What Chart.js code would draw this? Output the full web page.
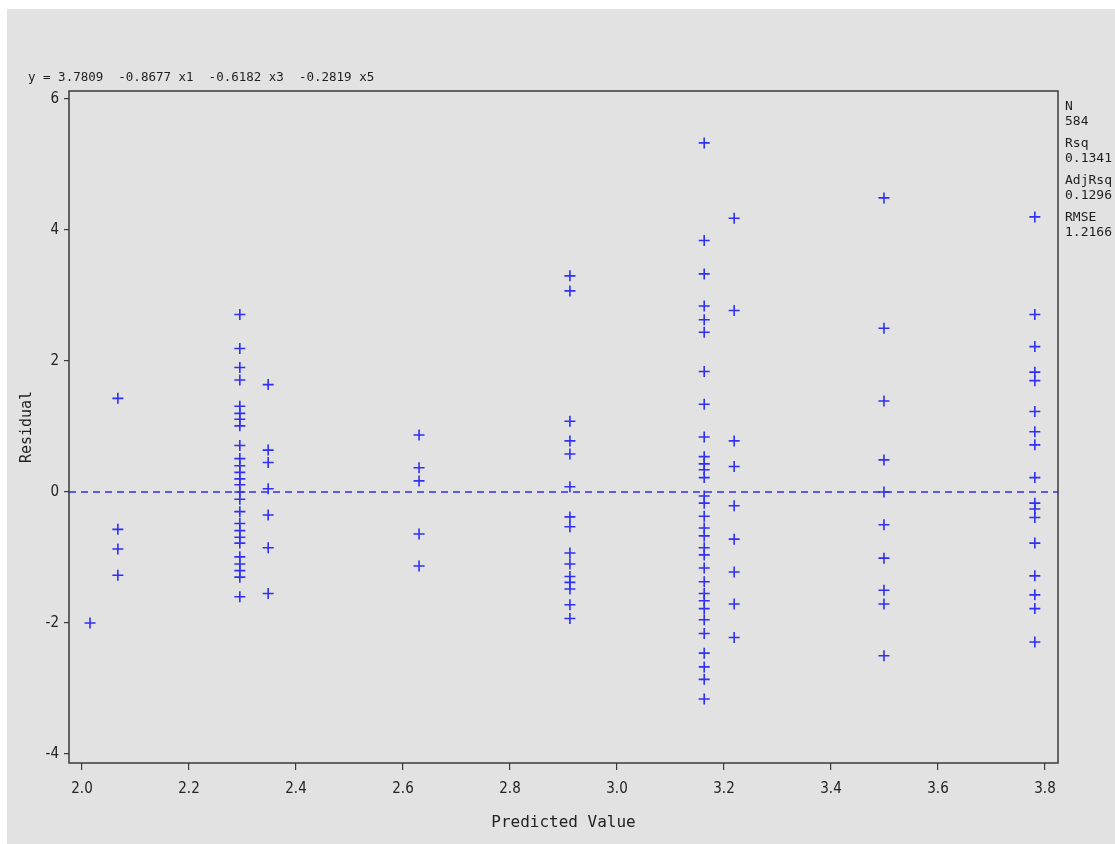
<!DOCTYPE html>
<html>
<head>
<meta charset="utf-8">
<script src="https://cdn.jsdelivr.net/npm/chart.js@4/dist/chart.umd.min.js"></script>
<style>
    body { margin: 0; background: #ffffff; }
    #frame { position: absolute; left: 7px; top: 9px; width: 1108px; height: 835px; background: #e2e2e2; }
</style>
</head>
<body>
<div id="frame">
    <canvas id="residChart"></canvas>
</div>

<script type="text/JavaScript">

//------------------------------------------------------------------------------------------
// Data (read off the residual plot)
//------------------------------------------------------------------------------------------

// predicted value of each column of points
var predicted = [2.015, 2.067, 2.295, 2.348, 2.630, 2.912, 3.163, 3.219, 3.499, 3.781];

// residuals of each column
var res2015 = [-2.00];
var res2067 = [1.43, -0.57, -0.87, -1.27];
var res2295 = [2.71, 2.19, 1.90, 1.71, 1.31, 1.20, 1.11, 1.01, 0.71, 0.51, 0.40, 0.30, 0.20, 0.11, 0.00,
               -0.11, -0.30, -0.48, -0.59, -0.69, -0.78, -0.99, -1.10, -1.20, -1.30, -1.60];
var res2348 = [1.64, 0.64, 0.45, 0.05, -0.35, -0.85, -1.55];
var res2630 = [0.87, 0.37, 0.17, -0.64, -1.13];
var res2912 = [3.30, 3.07, 1.08, 0.78, 0.58, 0.08, -0.38, -0.53, -0.93, -1.10, -1.29, -1.38, -1.48, -1.72, -1.93];
var res3163 = [5.33, 3.84, 3.33, 2.84, 2.63, 2.44, 1.84, 1.34, 0.84, 0.54, 0.43, 0.34, 0.22, -0.06, -0.17,
               -0.37, -0.55, -0.67, -0.85, -0.96, -1.16, -1.37, -1.55, -1.66, -1.78, -1.95, -2.16, -2.46,
               -2.67, -2.86, -3.16];
var res3219 = [4.18, 2.77, 0.78, 0.39, -0.21, -0.72, -1.22, -1.71, -2.22];
var res3499 = [4.49, 2.50, 1.39, 0.49, 0.00, -0.50, -1.01, -1.50, -1.71, -2.50];
var res3781 = [4.20, 2.71, 2.22, 1.83, 1.70, 1.23, 0.92, 0.72, 0.22, -0.17, -0.26, -0.39, -0.78, -1.28,
               -1.57, -1.78, -2.29];
var residuals = [res2015, res2067, res2295, res2348, res2630, res2912, res3163, res3219, res3499, res3781];

// axis ticks and ranges
var xTicks = [2.0, 2.2, 2.4, 2.6, 2.8, 3.0, 3.2, 3.4, 3.6, 3.8];
var yTicks = [-4, -2, 0, 2, 4, 6];
var xRange = [1.9757, 3.8243];
var yRange = [-4.137, 6.122];

// fit statistics
var modelText = "y = 3.7809  -0.8677 x1  -0.6182 x3  -0.2819 x5";
var statLabels = ["N", "Rsq", "AdjRsq", "RMSE"];
var statValues = ["584", "0.1341", "0.1296", "1.2166"];

//------------------------------------------------------------------------------------------
var BLUE = "#2f2ff5";
var MONO = '"DejaVu Sans Mono", "Liberation Mono", monospace';
var NARROW = '"Liberation Sans Narrow", "DejaVu Sans Condensed", "DejaVu Sans", sans-serif';

// build the scatter points
var points = [];
for (var i in predicted) {
    for (var j in residuals[i]) {
        points.push({x: predicted[i], y: residuals[i][j]});
    }
}

// frame, model equation and statistics
var decorPlugin = {
    id: 'decor',
    afterDraw: function(chart) {
        var ctx = chart.ctx;
        var a = chart.chartArea;
        ctx.save();
        ctx.strokeStyle = "#3a3a3a";
        ctx.lineWidth = 1.5;
        ctx.strokeRect(a.left, a.top, a.right - a.left, a.bottom - a.top);

        ctx.fillStyle = "#1e1e1e";
        ctx.textBaseline = "middle";
        ctx.textAlign = "left";
        ctx.font = "12.5px " + MONO;
        ctx.fillText(modelText, 21, 69);

        ctx.font = "13px " + MONO;
        for (var k in statLabels) {
            var y0 = 98 + k * 37;
            ctx.fillText(statLabels[k], a.right + 7, y0);
            ctx.fillText(statValues[k], a.right + 7, y0 + 15);
        }
        ctx.restore();
    }
};

var ctxR = document.getElementById("residChart").getContext('2d');
var myChart = new Chart(ctxR, {
    type: 'scatter',
    data: {
        datasets: [
            {
                data: points,
                pointStyle: 'cross',
                pointRadius: 5.5,
                pointBorderWidth: 1.6,
                borderColor: BLUE,
                backgroundColor: BLUE
            },
            {
                type: 'line',
                data: [{x: xRange[0], y: 0}, {x: xRange[1], y: 0}],
                borderColor: BLUE,
                borderWidth: 1.4,
                borderDash: [7, 5],
                pointRadius: 0
            }
        ]
    },
    options: {
        responsive: true,
        maintainAspectRatio: false,
        animation: false,
        layout: { padding: { left: 0, top: 82, right: 57, bottom: 0 } },
        plugins: { legend: { display: false }, tooltip: { enabled: false } },
        scales: {
            x: {
                type: 'linear',
                min: xRange[0],
                max: xRange[1],
                afterBuildTicks: function(axis) { axis.ticks = xTicks.map(function(v) { return {value: v}; }); },
                afterFit: function(axis) { axis.height = 81; },
                ticks: {
                    padding: 10,
                    maxRotation: 0,
                    color: "#222222",
                    font: { family: NARROW, size: 15 },
                    callback: function(v) { return Number(v).toFixed(1); }
                },
                grid: { drawOnChartArea: false, drawTicks: true, tickLength: 7, color: "#3a3a3a", lineWidth: 1.2 },
                border: { display: false },
                title: {
                    display: true,
                    text: "Predicted Value",
                    color: "#222222",
                    font: { family: MONO, size: 16 },
                    padding: { top: 0, bottom: 12 }
                }
            },
            y: {
                type: 'linear',
                min: yRange[0],
                max: yRange[1],
                afterBuildTicks: function(axis) { axis.ticks = yTicks.map(function(v) { return {value: v}; }); },
                afterFit: function(axis) { axis.width = 62; },
                ticks: {
                    padding: 5,
                    color: "#222222",
                    font: { family: NARROW, size: 15 }
                },
                grid: { drawOnChartArea: false, drawTicks: true, tickLength: 5, color: "#3a3a3a", lineWidth: 1.2 },
                border: { display: false },
                title: {
                    display: true,
                    text: "Residual",
                    color: "#222222",
                    font: { family: MONO, size: 15 },
                    padding: { top: 11, bottom: 0 }
                }
            }
        }
    },
    plugins: [decorPlugin]
}); //Chart()

</script>
</body>
</html>
